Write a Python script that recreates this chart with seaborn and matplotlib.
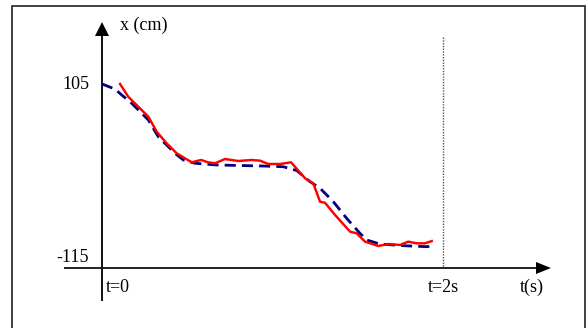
import matplotlib
matplotlib.use("Agg")
import matplotlib.pyplot as plt
from matplotlib.patches import Rectangle
import seaborn as sns
import pandas as pd

# measured position x(t), red solid line
meas_t = [0.106, 0.154, 0.272, 0.321, 0.379, 0.438, 0.526, 0.581, 0.622, 0.663,
          0.721, 0.799, 0.878, 0.927, 0.975, 1.044, 1.109, 1.191, 1.239, 1.279,
          1.308, 1.367, 1.455, 1.494, 1.543, 1.621, 1.679, 1.748, 1.796, 1.846,
          1.894, 1.934]
meas_x = [105, 88.8, 63.4, 44.3, 29.6, 16.9, 5.4, 8.4, 5.4, 4.2,
          9.6, 7.1, 8.4, 7.5, 3.3, 3.3, 5.4, -14.9, -21.3, -44.7,
          -46.0, -61.6, -82.8, -84.9, -95.5, -101.0, -98.5, -99.7, -95.5, -97.6,
          -97.6, -94.7]

# target / model position, navy dashed line
model_t = [0.0, 0.076, 0.116, 0.174, 0.272, 0.330, 0.428, 0.477, 0.545, 0.673,
           0.946, 1.063, 1.142, 1.220, 1.279, 1.357, 1.435, 1.513, 1.553, 1.630,
           1.767, 1.904, 1.953]
model_x = [105, 98.6, 91.0, 80.5, 59.2, 38.0, 16.9, 8.4, 4.2, 2.0,
           0.7, -0.2, -5.0, -19.2, -27.6, -44.7, -65.8, -84.9, -93.4, -98.5,
           -100.6, -101.9, -100.6]

y_labels = ["105", "-115"]
y_label_values = [105, -115]
t_labels = ["t=0", "t=2s"]
t_label_values = [0, 2]

W, H = 586, 328
fig = plt.figure(figsize=(W / 100, H / 100), dpi=100)
ax = fig.add_axes([0, 0, 1, 1])
ax.set_axis_off()

# pixel <-> data mapping (layout)
PX_T0, PX_PER_S = 102, 170.5
PY_105, PX_PER_CM = 84, 173 / 220


def px2t(px):
    return (px - PX_T0) / PX_PER_S


def py2cm(py):
    return 105 - (py - PY_105) / PX_PER_CM


ax.set_xlim(px2t(0), px2t(W))
ax.set_ylim(py2cm(H), py2cm(0))

serif = ["Liberation Serif", "DejaVu Serif"]

df_model = pd.DataFrame({"t": model_t, "x": model_x})
df_meas = pd.DataFrame({"t": meas_t, "x": meas_x})

sns.lineplot(data=df_model, x="t", y="x", ax=ax, color="#000080", lw=2.0,
             dashes=False, linestyle=(0, (4, 2.2)), legend=False, zorder=3)
sns.lineplot(data=df_meas, x="t", y="x", ax=ax, color="#ff0000", lw=1.75,
             legend=False, zorder=4)
ax.set_axis_off()

# axes with arrows
xa = py2cm(268)
ax.plot([px2t(65), px2t(538)], [xa, xa], color="#222222", lw=1.4, zorder=2)
ax.fill([px2t(536), px2t(551), px2t(536)], [py2cm(262), xa, py2cm(274)],
        color="black", lw=0, zorder=2)
ax.plot([0, 0], [py2cm(300), py2cm(34)], color="#111111", lw=1.4, zorder=2)
ax.fill([px2t(95), 0, px2t(109)], [py2cm(36), py2cm(22), py2cm(36)],
        color="black", lw=0, zorder=2)

# dotted vertical at t=2
ax.plot([2, 2], [py2cm(37), xa], color="#555555", lw=1.0,
        linestyle=(0, (1, 1)), zorder=1)

fs = 13
for lab, v in zip(y_labels, y_label_values):
    ax.text(px2t(89), v, lab, ha="right", va="center", fontsize=fs, family=serif)
ax.text(px2t(106), py2cm(287), t_labels[0], ha="left", va="center",
        fontsize=fs, family=serif)
ax.text(t_label_values[1], py2cm(287), t_labels[1], ha="center", va="center",
        fontsize=fs, family=serif)
ax.text(px2t(532), py2cm(287), "t(s)", ha="center", va="center",
        fontsize=fs, family=serif)
ax.text(px2t(120), py2cm(25), "x (cm)", ha="left", va="center",
        fontsize=fs, family=serif)

# outer frame
fig.add_artist(Rectangle((12 / W, -0.02), (585 - 12) / W, (1 - 6 / H) + 0.02,
                         transform=fig.transFigure, fill=False,
                         ec="#333333", lw=1.3))

fig.savefig("out.png", dpi=100)
